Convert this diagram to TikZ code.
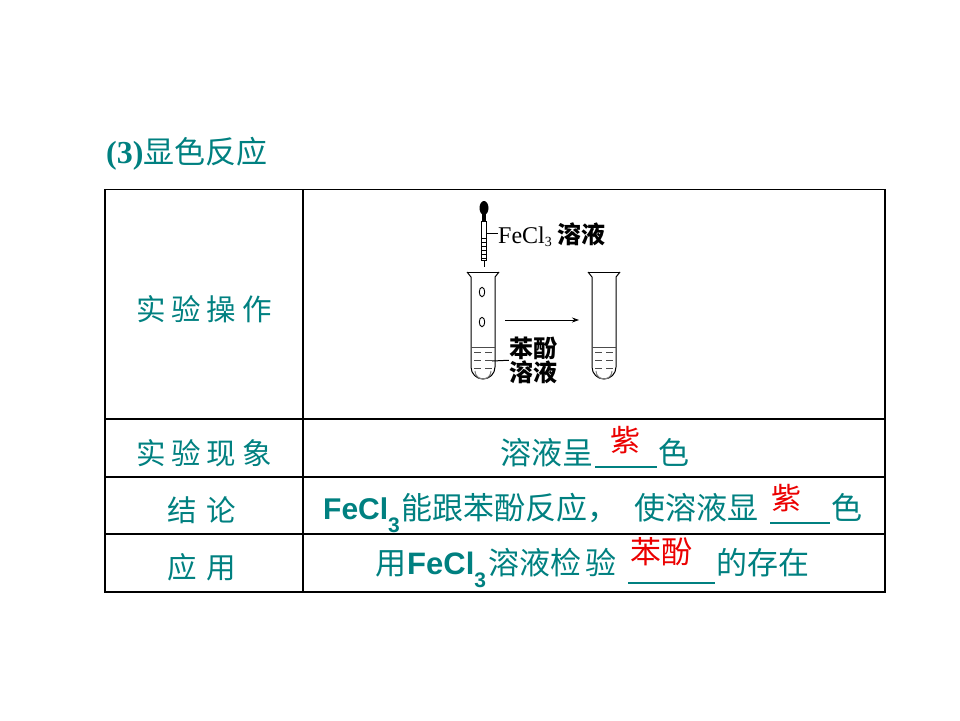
\documentclass[tikz,border=0pt]{standalone}
\usepackage{fontspec}
\setmainfont{Noto Sans CJK SC}
\newfontfamily\arialfont{Liberation Sans}
\newfontfamily\timesfont{Liberation Serif}
\usetikzlibrary{arrows.meta}
\definecolor{tealtext}{RGB}{0,128,128}
\definecolor{ansred}{RGB}{235,0,0}
\newcommand{\fsize}[1]{\fontsize{#1}{#1}\selectfont}
\newcommand{\bigFeCl}[1]{{\arialfont\bfseries\fsize{#1}FeCl\raisebox{-13pt}{\fsize{21}3}}}

\begin{document}
\begin{tikzpicture}[x=1pt, y=-1pt,
    grid/.style={draw=black, line width=1.2pt},
    head/.style={inner sep=0, anchor=center, text=tealtext, font=\fsize{29.5}},
    txt/.style={inner sep=0, anchor=base west, text=tealtext, font=\fsize{31}},
    ans/.style={inner sep=0, anchor=center, text=ansred, font=\fsize{30}},
    blank/.style={draw=tealtext, line width=2pt},
    tube/.style={draw=black, line width=1pt},
    liquid/.style={draw=black!70, line width=0.8pt},
    lbl/.style={inner sep=0, text=black}
]
    \useasboundingbox (0,0) rectangle (960,720);

    % Titel
    \node[txt] (title) at (106,163) {{\timesfont\bfseries\fsize{32}(3)}显色反应};

    % Tabelle
    \draw[grid] (105,189.5) rectangle (885,592);
    \draw[grid] (303,189.5) -- (303,592);
    \draw[grid] (105,419) -- (885,419);
    \draw[grid] (105,477) -- (885,477);
    \draw[grid] (105,534) -- (885,534);

    % linke Spalte
    \node[head] (h1) at (204,309) {实\hspace{6pt}验\hspace{6pt}操\hspace{6pt}作};
    \node[head] (h2) at (204,453) {实\hspace{6pt}验\hspace{6pt}现\hspace{6pt}象};
    \node[head] (h3) at (202,510) {结\hspace{10pt}论};
    \node[head] (h4) at (202,567) {应\hspace{10pt}用};

    % Tropfpipette
    \fill (484,208) ellipse [x radius=4.5, y radius=7];
    \fill (482,214) rectangle (486,221);
    \draw[line width=0.8pt] (481.5,221) rectangle (486.5,260);
    \foreach \y in {238,242,...,258}
        \draw[line width=0.8pt] (482,\y) -- (486,\y);
    \draw[line width=1pt] (484,260) -- (484,267);
    \coordinate (pip) at (486.5,233);
    \node[lbl, anchor=base west] (fecl) at (498,243)
        {{\timesfont\fsize{24}FeCl\raisebox{-3pt}{\fsize{14}3}}\hspace{6pt}{\bfseries\fsize{24}溶液}};
    \draw[line width=1pt] (pip) -- (fecl.west |- pip);

    % Reagenzglas links
    \draw[tube] (467,272) -- (499,272);
    \draw[tube] (467,272) -- (471,277) -- (471,367) arc[start angle=180, end angle=0, radius=12] -- (495,277) -- (499,272);
    \draw[line width=0.9pt] (482,292) ellipse [x radius=2.7, y radius=4.7];
    \draw[line width=0.9pt] (482,322) ellipse [x radius=2.7, y radius=4.7];
    \draw[liquid] (471,347) -- (495,347);
    \foreach \y in {352,360,368} {
        \draw[liquid] (474,\y) -- (481,\y);
        \draw[liquid] (485,\y) -- (492,\y);
    }
    \draw[black!50, line width=1pt] (475,371) arc[start angle=180, end angle=0, radius=8];
    \coordinate (sol) at (492,361);
    \node[lbl, font=\bfseries\fsize{24}] (ben) at (533,348) {苯酚};
    \node[lbl, font=\bfseries\fsize{24}] (rye) at (533,372) {溶液};
    \draw[line width=1pt] (sol) -- (rye.north west);

    % Pfeil
    \coordinate (a1) at (505,320);
    \coordinate (a2) at (579,320);
    \draw[line width=0.8pt, -{Stealth[length=7pt, width=5pt]}] (a1) -- (a2);

    % Reagenzglas rechts
    \draw[tube] (588,272) -- (620,272);
    \draw[tube] (588,272) -- (592,277) -- (592,367) arc[start angle=180, end angle=0, radius=12] -- (616,277) -- (620,272);
    \draw[liquid] (592,347) -- (616,347);
    \foreach \y in {352,360,368} {
        \draw[liquid] (595,\y) -- (602,\y);
        \draw[liquid] (606,\y) -- (613,\y);
    }
    \draw[black!50, line width=1pt] (596,371) arc[start angle=180, end angle=0, radius=8];

    % Zeile 2
    \node[txt] (obs) at (500,464) {溶液呈};
    \draw[blank] (595,467) -- (657,467);
    \node[txt] (obsend) at (658,464) {色};
    \node[ans] (obsans) at (625,440) {紫};

    % Zeile 3
    \node[txt] (con) at (323,519) {\bigFeCl{30}};
    \node[txt] (con2) at (401,519) {能跟苯酚反应，};
    \node[txt] (con3) at (634,519) {使溶液显};
    \draw[blank] (770,523) -- (830,523);
    \node[txt] (conend) at (831,519) {色};
    \node[ans] (conans) at (786,498) {紫};

    % Zeile 4
    \node[txt] (use) at (375,574) {用};
    \node[txt] (use2) at (407,574) {\bigFeCl{31}};
    \node[txt] (use3) at (488,574) {溶液检};
    \node[txt] (use4) at (585,574) {验};
    \draw[blank] (628,583) -- (715,583);
    \node[txt] (useend) at (716,574) {的存在};
    \node[ans, font=\fsize{31}] (useans) at (661,552) {苯酚};
\end{tikzpicture}
\end{document}
